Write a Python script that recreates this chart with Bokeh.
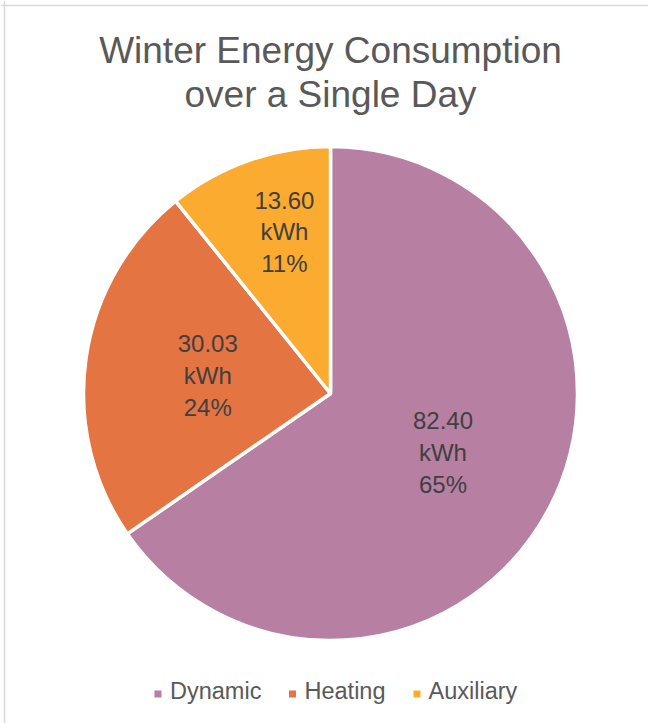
import math
from bokeh.plotting import figure
from bokeh.models import Range1d, Span, ColumnDataSource
from bokeh.core.properties import value
from bokeh.embed import file_html
from bokeh.resources import INLINE

# ---- data ----
categories = ["Dynamic", "Heating", "Auxiliary"]
energy_kwh = [82.40, 30.03, 13.60]
colors = ["#B77FA2", "#E57443", "#FBAB30"]
title_lines = ["Winter Energy Consumption", "over a Single Day"]

# ---- layout (pixels) ----
W, H = 648, 723
cx, cy, R = 330, 330, 247
label_r = [127, 124, 168]
label_shift_deg = [0, 0, -3.5]
FONT = "Liberation Sans"

total = sum(energy_kwh)
fracs = [v / total for v in energy_kwh]
starts, ends, mids = [], [], []
acc = 0.0
for f in fracs:
    a0 = math.pi / 2 - 2 * math.pi * acc
    a1 = math.pi / 2 - 2 * math.pi * (acc + f)
    starts.append(a0)
    ends.append(a1)
    mids.append((a0 + a1) / 2)
    acc += f

p = figure(width=W, height=H, output_backend="svg", toolbar_location=None,
           x_range=Range1d(0, W), y_range=Range1d(0, H),
           x_axis_type=None, y_axis_type=None, min_border=0,
           outline_line_color=None, background_fill_color="white",
           border_fill_color="white")
p.grid.visible = False

src = ColumnDataSource(dict(start=starts, end=ends, color=colors, cat=categories))
p.wedge(x=cx, y=cy, radius=R, start_angle="start", end_angle="end",
        direction="clock", fill_color="color", line_color="white",
        line_width=3.5, source=src)

labels = [f"{v:.2f}\nkWh\n{round(f*100)}%" for v, f in zip(energy_kwh, fracs)]
lang = [m + math.radians(s) for m, s in zip(mids, label_shift_deg)]
lx = [cx + r * math.cos(a) for r, a in zip(label_r, lang)]
ly = [cy + r * math.sin(a) for r, a in zip(label_r, lang)]
p.text(x=lx, y=ly, text=labels, text_align="center", text_baseline="middle",
       text_font=value(FONT), text_font_size="24px", text_color="#404040",
       text_line_height=1.18)

# title
p.text(x=[330, 330], y=[673, 629], text=title_lines, text_align="center",
       text_baseline="alphabetic", text_font=value(FONT),
       text_font_size="37px", text_color="#595959")

# legend
leg_mx = [157.5, 292, 416.5]
leg_tx = [169.5, 304, 428]
p.scatter(x=leg_mx, y=[29.5] * 3, marker="square", size=7,
          fill_color=colors, line_color=None)
p.text(x=leg_tx, y=[33] * 3, text=categories, text_align="left",
       text_baseline="alphabetic", text_font=value(FONT),
       text_font_size="23.5px", text_color="#595959")

# chart border (left and top visible)
p.add_layout(Span(location=4, dimension="height", line_color="#D9D9D9", line_width=1.5))
p.add_layout(Span(location=H - 5, dimension="width", line_color="#D9D9D9", line_width=1.5))

open("out.html", "w").write(file_html(p, INLINE))
